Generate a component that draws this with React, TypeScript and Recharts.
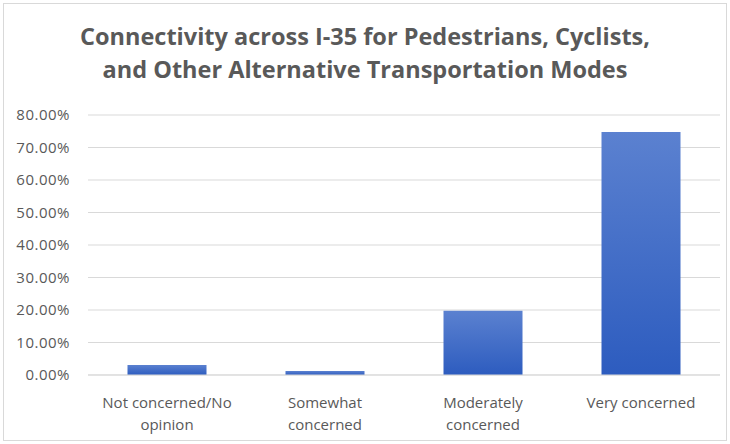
import { BarChart, Bar, XAxis, YAxis, CartesianGrid } from "recharts";

const categories = ["Not concerned/No opinion", "Somewhat concerned", "Moderately concerned", "Very concerned"];
const tickLines = [
  ["Not concerned/No", "opinion"],
  ["Somewhat", "concerned"],
  ["Moderately", "concerned"],
  ["Very concerned"],
];
const shares = [3.1, 1.2, 19.8, 74.8];
const yTicks = [0, 10, 20, 30, 40, 50, 60, 70, 80];

const data = categories.map((name, i) => ({ name, value: shares[i] }));

const FONT = "'Open Sans', sans-serif";

const CategoryTick = (props: any) => {
  const { x, y, index } = props;
  const lines = tickLines[index] || [];
  return (
    <g>
      {lines.map((line, i) => (
        <text
          key={i}
          x={x}
          y={y + 25 + i * 22}
          textAnchor="middle"
          fill="#595959"
          fontSize={15}
          fontFamily={FONT}
        >
          {line}
        </text>
      ))}
    </g>
  );
};

const App = () => {
  return (
    <div
      style={{
        position: "absolute",
        left: 0,
        top: 0,
        width: 730,
        height: 444,
        background: "#fff",
      }}
    >
      <div
        style={{
          position: "absolute",
          left: 3,
          top: 3,
          width: 722,
          height: 436,
          border: "1px solid #d9d9d9",
        }}
      />
      <div
        style={{
          position: "absolute",
          left: 0,
          top: 20,
          width: 730,
          textAlign: "center",
          fontFamily: FONT,
          fontWeight: 700,
          fontSize: 23.5,
          lineHeight: "33px",
          color: "#595959",
        }}
      >
        Connectivity across I-35 for Pedestrians, Cyclists,
        <br />
        and Other Alternative Transportation Modes
      </div>
      <div style={{ position: "absolute", left: 0, top: 0 }}>
        <BarChart
          width={730}
          height={444}
          data={data}
          margin={{ top: 115, right: 10, bottom: 0, left: 0 }}
          barCategoryGap="25%"
        >
          <defs>
            <linearGradient id="barFill" x1="0" y1="0" x2="0" y2="1">
              <stop offset="0%" stopColor="#5b81d0" />
              <stop offset="100%" stopColor="#2d5cbf" />
            </linearGradient>
          </defs>
          <CartesianGrid vertical={false} stroke="#d9d9d9" />
          <XAxis
            dataKey="name"
            height={69}
            tickLine={false}
            axisLine={{ stroke: "#d9d9d9" }}
            tick={<CategoryTick />}
            interval={0}
          />
          <YAxis
            width={88}
            domain={[0, 80]}
            ticks={yTicks}
            axisLine={false}
            tickLine={false}
            tickMargin={12}
            tickFormatter={(v: number) => `${v.toFixed(2)}%`}
            tick={{ fill: "#595959", fontSize: 15, fontFamily: FONT, letterSpacing: 0.5 }}
          />
          <Bar dataKey="value" fill="url(#barFill)" isAnimationActive={false} />
        </BarChart>
      </div>
    </div>
  );
};

export default App;
